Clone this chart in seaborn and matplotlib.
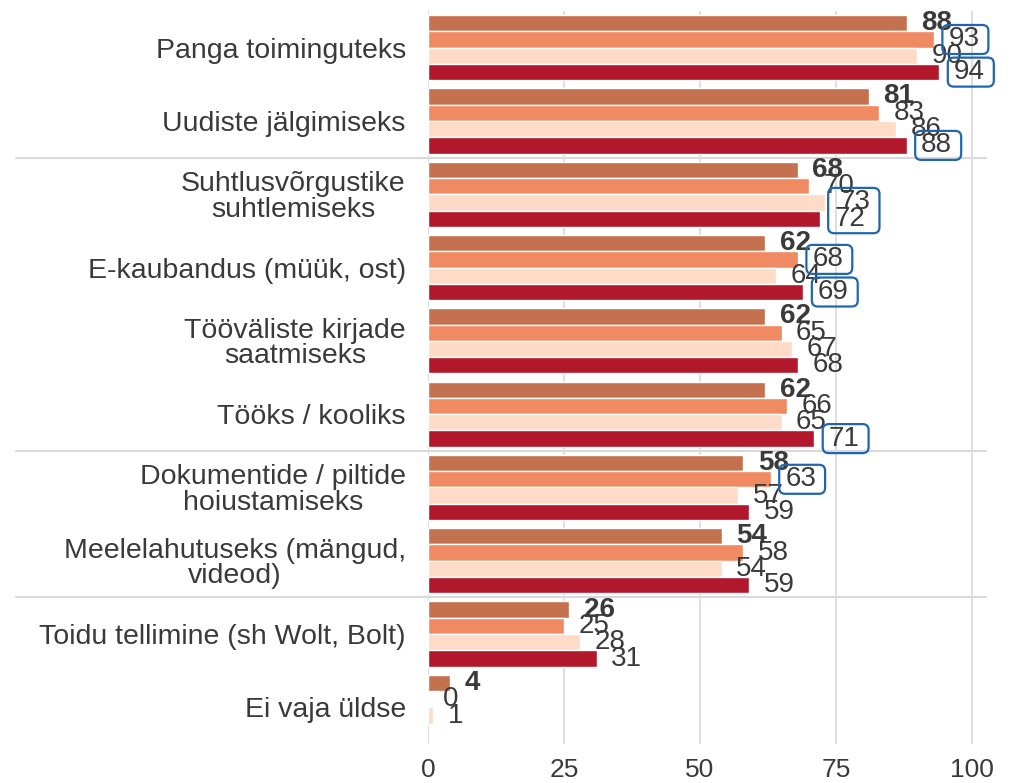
import matplotlib
matplotlib.use('AGG')
import matplotlib.pyplot as plt
import matplotlib.transforms as mtransforms
from matplotlib.patches import FancyBboxPatch
import seaborn as sns
import pandas as pd
import numpy as np


categories = ["Panga toiminguteks",
              "Uudiste jälgimiseks",
              "Suhtlusvõrgustike\nsuhtlemiseks",
              "E-kaubandus (müük, ost)",
              "Tööväliste kirjade\nsaatmiseks",
              "Tööks / kooliks",
              "Dokumentide / piltide\nhoiustamiseks",
              "Meelelahutuseks (mängud,\nvideod)",
              "Toidu tellimine (sh Wolt, Bolt)",
              "Ei vaja üldse"]
series = ["Rühm 1", "Rühm 2", "Rühm 3", "Rühm 4"]

values_1 = [88, 81, 68, 62, 62, 62, 58, 54, 26, 4]
values_2 = [93, 83, 70, 68, 65, 66, 63, 58, 25, 0]
values_3 = [90, 86, 73, 64, 67, 65, 57, 54, 28, 1]
values_4 = [94, 88, 72, 69, 68, 71, 59, 59, 31, np.nan]

# labels that get a blue frame
marked_1 = [False] * 10
marked_2 = [True, False, False, True, False, False, True, False, False, False]
marked_3 = [False, False, True, False, False, False, False, False, False, False]
marked_4 = [True, True, True, True, False, True, False, False, False, False]

# group separators (between categories)
separators = [1.5, 5.5, 7.5]

colors = ["#C4714F", "#EF8A62", "#FDDBC7", "#B2182B"]
text_col = "#3A3A3A"
grid_col = "#DEDEDE"


def make_frame():
    rows = []
    for s, vals in zip(series, [values_1, values_2, values_3, values_4]):
        for c, v in zip(categories, vals):
            rows.append({"category": c, "series": s, "value": v})
    return pd.DataFrame(rows)


def main():
    sns.set_theme(style="white")
    plt.rcParams['font.family'] = ['Liberation Sans', 'DejaVu Sans']

    df = make_frame()
    fig = plt.figure(figsize=(10.15, 7.83), dpi=100)
    ax = fig.add_axes([428 / 1015, 1 - 744 / 783, 558 / 1015, 733 / 783])

    sns.barplot(data=df, y="category", x="value", hue="series",
                order=categories, hue_order=series, palette=colors,
                saturation=1, width=0.89, orient="h", legend=False,
                errorbar=None, ax=ax)

    ax.set_xlim(0, 102.6)
    ax.set_ylim(len(categories) - 0.5, -0.5)
    ax.set_xticks([0, 25, 50, 75, 100])
    ax.set_xlabel("")
    ax.set_ylabel("")
    ax.grid(axis="x", color=grid_col, linewidth=1.5)
    ax.grid(axis="y", visible=False)
    ax.set_axisbelow(True)
    for sp in ax.spines.values():
        sp.set_visible(False)
    ax.tick_params(axis="x", length=0, pad=10, labelsize=19, labelcolor=text_col)
    ax.tick_params(axis="y", length=0, pad=16, labelsize=20.5, labelcolor=text_col)
    for t in ax.get_yticklabels():
        t.set_multialignment("center")
        t.set_linespacing(0.98)

    # separator lines reaching into the label area
    trans = mtransforms.blended_transform_factory(ax.transAxes, ax.transData)
    for y in separators:
        ax.plot([-412 / 558, 1.0], [y, y], transform=trans, color="#D9D9D9",
                linewidth=1.5, clip_on=False, zorder=0.5)

    # value labels
    marks = [marked_1, marked_2, marked_3, marked_4]
    texts = {}
    for si, cont in enumerate(ax.containers):
        for bar in cont:
            w = bar.get_width()
            if np.isnan(w):
                continue
            yc = bar.get_y() + bar.get_height() / 2
            ci = int(round(yc))
            t = ax.annotate(f"{w:.0f}", xy=(w, yc), xytext=(10.5, 0),
                            textcoords="offset points", ha="left", va="center",
                            fontsize=20, color=text_col,
                            fontweight="bold" if si == 0 else "normal",
                            annotation_clip=False)
            texts[(ci, si)] = t

    # blue frames; neighbouring marked labels share one frame
    fig.canvas.draw()
    renderer = fig.canvas.get_renderer()
    for ci in range(len(categories)):
        run = []
        for si in range(len(series) + 1):
            if si < len(series) and marks[si][ci] and (ci, si) in texts:
                run.append(texts[(ci, si)])
                continue
            if run:
                boxes = [t.get_window_extent(renderer) for t in run]
                x0 = min(b.x0 for b in boxes) - 6
                x1 = max(b.x1 for b in boxes) + 9
                y0 = min(b.y0 for b in boxes) - 1.5
                y1 = max(b.y1 for b in boxes) + 1.5
                patch = FancyBboxPatch((x0, y0), x1 - x0, y1 - y0,
                                       boxstyle="round,pad=0,rounding_size=6",
                                       transform=mtransforms.IdentityTransform(),
                                       facecolor="none", edgecolor="#2166AC",
                                       linewidth=1.6, clip_on=False, zorder=5)
                fig.add_artist(patch)
                run = []

    fig.savefig("out.png", dpi=100)


if __name__ == "__main__":
    main()
